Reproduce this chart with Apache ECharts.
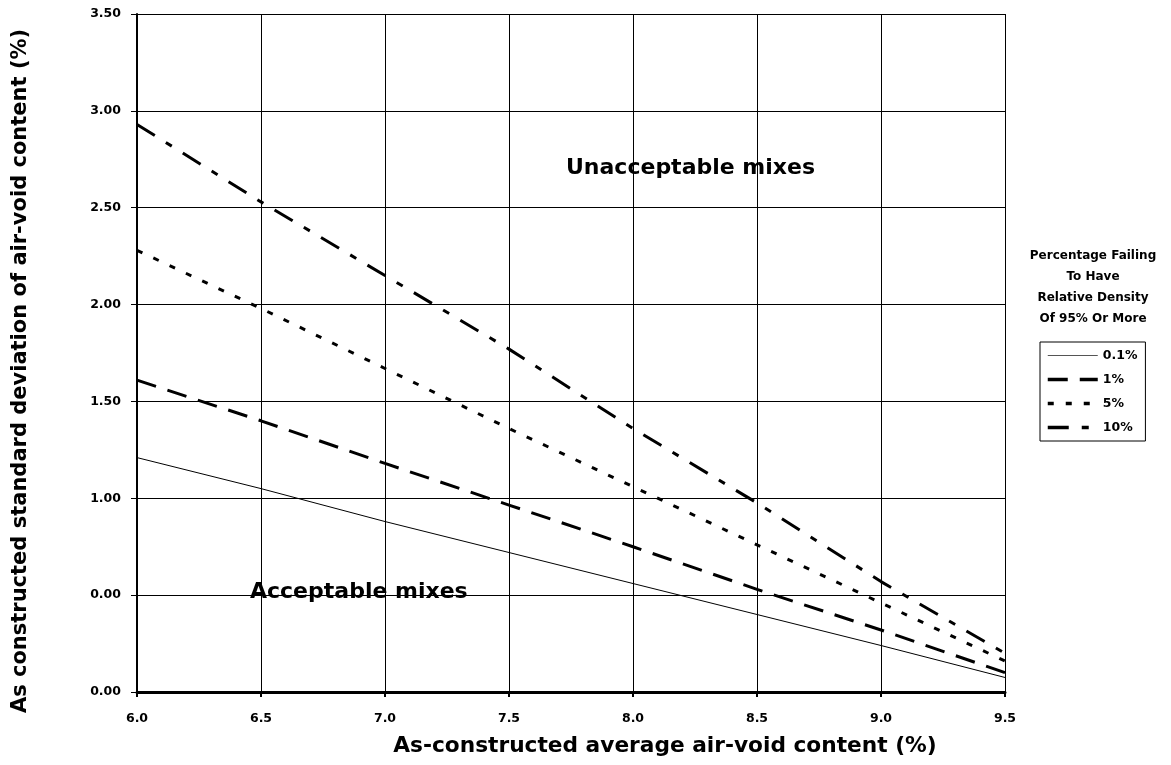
<!DOCTYPE html>
<html>
<head>
<meta charset="utf-8">
<title>Air-void content</title>
<script src="https://cdn.jsdelivr.net/npm/echarts@6.0.0/dist/echarts.min.js"></script>
<style>
    html, body { margin: 0; padding: 0; background: #fff; }
    #voidCharts { width: 1171px; height: 765px; }
</style>
</head>
<body>
<div id="voidCharts"></div>
<script>
    // average air-void content (%)
    var avgVoids = [6.0, 6.5, 7.0, 7.5, 8.0, 8.5, 9.0, 9.5]
    // standard deviation limits, one per percentage failing
    var fail01 = [1.21, 1.05, 0.88, 0.72, 0.56, 0.40, 0.24, 0.075]
    var fail1 = [1.61, 1.40, 1.18, 0.965, 0.75, 0.53, 0.32, 0.10]
    var fail5 = [2.28, 1.98, 1.67, 1.36, 1.06, 0.76, 0.46, 0.16]
    var fail10 = [2.93, 2.53, 2.15, 1.77, 1.36, 0.976, 0.57, 0.20]
    var seriesNames = ['0.1%', '1%', '5%', '10%']
    // tick labels as printed on the original
    var yTickLabels = ['0.00', '0.00', '1.00', '1.50', '2.00', '2.50', '3.00', '3.50']

    var FONT = 'DejaVu Sans'

    function pairs(ys) {
        return avgVoids.map(function (x, i) { return [x, ys[i]] })
    }

    function lineSeries(name, ys, width, dash) {
        return {
            name: name,
            type: 'line',
            data: pairs(ys),
            symbol: 'none',
            silent: true,
            lineStyle: {
                color: '#000',
                width: width,
                type: dash
            },
            itemStyle: { color: '#000' }
        }
    }

    var _voidCharts = {
        animation: false,
        backgroundColor: '#fff',
        textStyle: { fontFamily: FONT, color: '#000' },
        grid: {
            left: 137,
            right: 166,
            top: 14,
            bottom: 73
        },
        legend: {
            orient: 'vertical',
            left: 1040,
            top: 342,
            padding: [7, 8, 7, 6],
            itemWidth: 50,
            itemHeight: 14,
            itemGap: 11,
            borderColor: '#000',
            borderWidth: 1,
            data: [
                { name: seriesNames[0], lineStyle: { width: 1, color: '#555' } },
                { name: seriesNames[1], lineStyle: { width: 3.5 } },
                { name: seriesNames[2], lineStyle: { width: 3.5 } },
                { name: seriesNames[3], lineStyle: { width: 3.5 } }
            ],
            // line only, no marker in the middle
            itemStyle: { opacity: 0 },
            textStyle: {
                fontFamily: FONT,
                fontWeight: 'bold',
                fontSize: 12.5,
                color: '#000'
            }
        },
        xAxis: {
            type: 'value',
            min: 6,
            max: 9.5,
            interval: 0.5,
            name: 'As-constructed average air-void content (%)',
            nameLocation: 'middle',
            nameGap: 43,
            nameTextStyle: {
                fontFamily: FONT,
                fontWeight: 'bold',
                fontSize: 21.7,
                color: '#000',
                padding: [0, 0, 0, 188]
            },
            axisLine: { lineStyle: { color: '#000', width: 3 } },
            axisTick: { show: true, length: 5, lineStyle: { color: '#000', width: 2 } },
            axisLabel: {
                margin: 20,
                fontFamily: FONT,
                fontWeight: 'bold',
                fontSize: 12.5,
                color: '#000',
                formatter: function (v) { return v.toFixed(1) }
            },
            splitLine: { show: true, lineStyle: { color: '#000', width: 1 } }
        },
        yAxis: {
            type: 'value',
            min: 0,
            max: 3.5,
            interval: 0.5,
            name: 'As constructed standard deviation of air-void content (%)',
            nameLocation: 'middle',
            nameRotate: 90,
            nameGap: 106,
            nameTextStyle: {
                fontFamily: FONT,
                fontWeight: 'bold',
                fontSize: 21,
                color: '#000',
                padding: [0, 36, 0, 0]
            },
            axisLine: { show: true, lineStyle: { color: '#000', width: 2 } },
            axisTick: { show: true, length: 6, lineStyle: { color: '#000', width: 1 } },
            axisLabel: {
                margin: 16,
                fontFamily: FONT,
                fontWeight: 'bold',
                fontSize: 12.5,
                color: '#000',
                formatter: function (v) { return yTickLabels[Math.round(v / 0.5)] }
            },
            splitLine: { show: true, lineStyle: { color: '#000', width: 1 } }
        },
        graphic: [
            {
                type: 'text',
                x: 1093,
                y: 245,
                style: {
                    text: 'Percentage Failing\nTo Have\nRelative Density\nOf 95% Or More',
                    align: 'center',
                    fontFamily: FONT,
                    fontWeight: 'bold',
                    fontSize: 12,
                    lineHeight: 21,
                    fill: '#000'
                }
            },
            {
                type: 'text',
                left: 566,
                top: 157,
                style: {
                    text: 'Unacceptable mixes',
                    fontFamily: FONT,
                    fontWeight: 'bold',
                    fontSize: 22,
                    fill: '#000'
                }
            },
            {
                type: 'text',
                left: 250,
                top: 581,
                style: {
                    text: 'Acceptable mixes',
                    fontFamily: FONT,
                    fontWeight: 'bold',
                    fontSize: 22,
                    fill: '#000'
                }
            }
        ],
        series: [
            lineSeries('0.1%', fail01, 1, 'solid'),
            lineSeries('1%', fail1, 3, [20, 12]),
            lineSeries('5%', fail5, 3, [6, 12]),
            lineSeries('10%', fail10, 3, [21, 13, 7, 13])
        ]
    }

    var voidCharts = echarts.init(document.getElementById('voidCharts'))
    voidCharts.setOption(_voidCharts)
    window.addEventListener('resize', function () {
        voidCharts.resize()
    })
</script>
</body>
</html>
